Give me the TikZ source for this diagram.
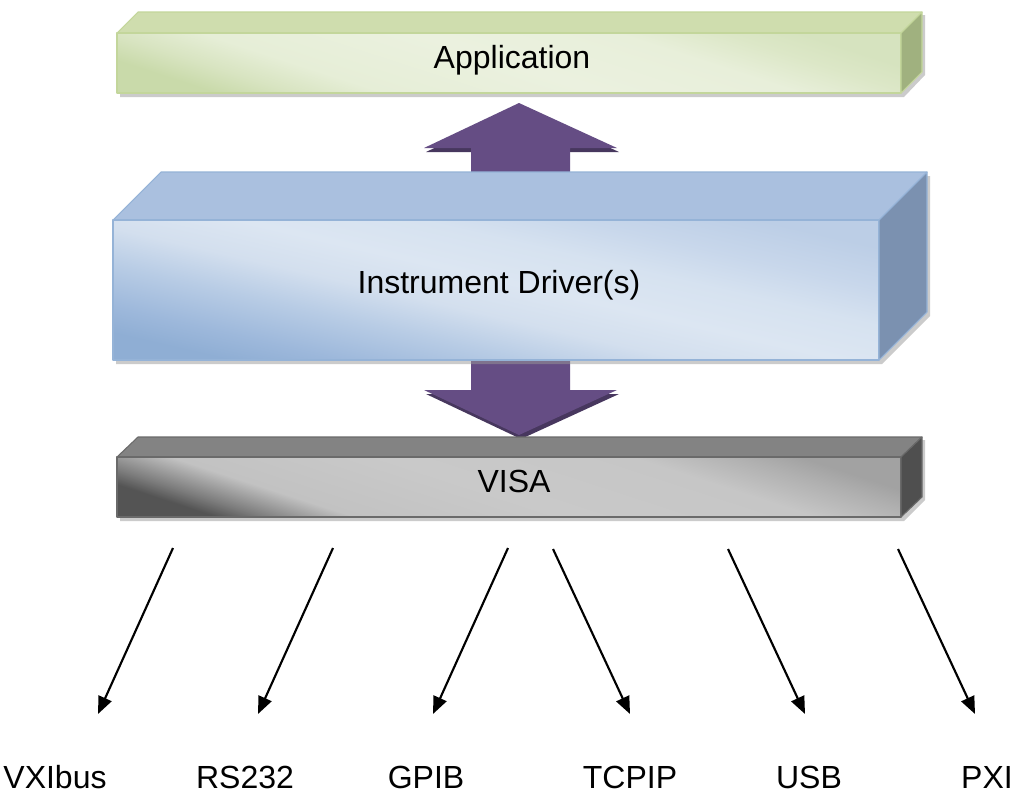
\documentclass[tikz,border=0pt]{standalone}
\usepackage{fontspec}
\setmainfont{Liberation Sans}
\usetikzlibrary{arrows.meta}
\definecolor{appTop}{HTML}{CFDDAE}
\definecolor{appSide}{HTML}{A0B17F}
\definecolor{appEdge}{HTML}{C3D69B}
\definecolor{appS1}{HTML}{C9DAAA}
\definecolor{appS2}{HTML}{D8E4C1}
\definecolor{appS3}{HTML}{E6EED7}
\definecolor{appS4}{HTML}{EBF1DF}
\definecolor{appS5}{HTML}{E8EFDA}
\definecolor{appS6}{HTML}{DCE7C7}
\definecolor{appS7}{HTML}{D6E3BF}
\definecolor{drvTop}{HTML}{AAC0DF}
\definecolor{drvSide}{HTML}{7B91B0}
\definecolor{drvEdge}{HTML}{95B3D7}
\definecolor{drvS1}{HTML}{8FAED4}
\definecolor{drvS2}{HTML}{9DB8DB}
\definecolor{drvS3}{HTML}{B8CCE5}
\definecolor{drvS4}{HTML}{D3DFEE}
\definecolor{drvS5}{HTML}{DCE6F2}
\definecolor{drvS6}{HTML}{D6E2F0}
\definecolor{drvS7}{HTML}{C8D7EB}
\definecolor{drvS8}{HTML}{BCCEE6}
\definecolor{visaTop}{HTML}{838383}
\definecolor{visaSide}{HTML}{4F4F4F}
\definecolor{visaEdge}{HTML}{6A6A6A}
\definecolor{visaS1}{HTML}{545454}
\definecolor{visaS2}{HTML}{7C7C7C}
\definecolor{visaS3}{HTML}{C2C2C2}
\definecolor{visaS4}{HTML}{C9C9C9}
\definecolor{visaS5}{HTML}{C6C6C6}
\definecolor{visaS6}{HTML}{B0B0B0}
\definecolor{visaS7}{HTML}{A2A2A2}
\definecolor{arrowPurple}{HTML}{654D84}
\definecolor{arrowDark}{HTML}{47375E}
\pgfdeclarehorizontalshading{appfront}{100bp}{color(0bp)=(appS1); color(25bp)=(appS1); color(30bp)=(appS2); color(36bp)=(appS3); color(50bp)=(appS4); color(63bp)=(appS5); color(70bp)=(appS6); color(75bp)=(appS7); color(100bp)=(appS7)}
\pgfdeclarehorizontalshading{drvfront}{100bp}{color(0bp)=(drvS1); color(25bp)=(drvS1); color(30bp)=(drvS2); color(38bp)=(drvS3); color(45bp)=(drvS4); color(52bp)=(drvS5); color(60bp)=(drvS6); color(67bp)=(drvS7); color(75bp)=(drvS8); color(100bp)=(drvS8)}
\pgfdeclarehorizontalshading{visafront}{100bp}{color(0bp)=(visaS1); color(25bp)=(visaS1); color(28bp)=(visaS2); color(34bp)=(visaS3); color(48bp)=(visaS4); color(64bp)=(visaS5); color(71bp)=(visaS6); color(75bp)=(visaS7); color(100bp)=(visaS7)}
\tikzset{
  lbl/.style={inner sep=0pt, anchor=base, text=black},
  conn/.style={line width=1.6pt, -{Triangle[length=13pt,width=10.5pt]}},
  boxshadow/.style={fill=black!40, opacity=0.5, draw=none},
  blockarrow/.style={fill=arrowPurple, draw=none},
  blockshadow/.style={fill=arrowDark, draw=none},
  edgeline/.style={line width=0.8pt, line join=round},
}
\begin{document}
\begin{tikzpicture}[x=0.75pt,y=-0.75pt,font=\fontsize{24}{29}\selectfont]
\useasboundingbox[fill=white] (0,0) rectangle (1023,793);

% ---------- purple block arrows (behind the boxes) ----------
\path[blockshadow] (426,152) -- (521,107) -- (619,152) -- cycle;
\path[blockarrow] (471,200) -- (471,148) -- (424,148) -- (519,103) -- (617,148) -- (570,148) -- (570,200) -- cycle;
\path[blockshadow] (426,394) -- (521,439) -- (619,394) -- cycle;
\path[blockarrow] (471,340) -- (471,390) -- (424,390) -- (519,435) -- (617,390) -- (570,390) -- (570,340) -- cycle;

% ---------- Application slab ----------
\path[boxshadow] (120,36) -- (141,15) -- (925,15) -- (925,75) -- (904,97) -- (120,97) -- cycle;
\filldraw[fill=appTop, draw=appEdge, edgeline] (117,33) -- (138,12) -- (922,12) -- (901,33) -- cycle;
\shade[shading=appfront, shading angle=72] (117,33) rectangle (901,93);
\draw[appEdge, edgeline] (117,33) rectangle (901,93);
\filldraw[fill=appSide, draw=appEdge, edgeline] (901,33) -- (922,12) -- (922,72) -- (901,93) -- cycle;
\node[lbl] (app) at (512,68) {Application};

% ---------- Instrument Driver(s) box ----------
\path[boxshadow] (116,224) -- (164,176) -- (930,176) -- (930,316) -- (882,364) -- (116,364) -- cycle;
\filldraw[fill=drvTop, draw=drvEdge, edgeline] (113,220) -- (161,172) -- (927,172) -- (879,220) -- cycle;
\shade[shading=drvfront, shading angle=77] (113,220) rectangle (879,360);
\draw[drvEdge, edgeline] (113,220) rectangle (879,360);
\filldraw[fill=drvSide, draw=drvEdge, edgeline] (879,220) -- (927,172) -- (927,312) -- (879,360) -- cycle;
\node[lbl] (drv) at (499,293) {Instrument Driver(s)};

% ---------- VISA slab ----------
\path[boxshadow] (120,460) -- (141,440) -- (925,440) -- (925,500) -- (904,521) -- (120,521) -- cycle;
\filldraw[fill=visaTop, draw=visaEdge, edgeline] (117,457) -- (138,437) -- (922,437) -- (901,457) -- cycle;
\shade[shading=visafront, shading angle=72] (117,457) rectangle (901,517);
\draw[visaEdge, edgeline] (117,457) rectangle (901,517);
\filldraw[fill=visaSide, draw=visaEdge, edgeline] (901,457) -- (922,437) -- (922,497) -- (901,517) -- cycle;
\node[lbl] (visa) at (514,492) {VISA};

% ---------- bus arrows and labels ----------
\coordinate (s1) at (173,548); \coordinate (e1) at (98,714);
\coordinate (s2) at (333,548); \coordinate (e2) at (258,714);
\coordinate (s3) at (508,548); \coordinate (e3) at (433,714);
\coordinate (s4) at (553,549); \coordinate (e4) at (630,714);
\coordinate (s5) at (728,549); \coordinate (e5) at (805,714);
\coordinate (s6) at (898,549); \coordinate (e6) at (975,714);
\foreach \i in {1,...,6} {\draw[conn] (s\i) -- (e\i);}

\node[lbl] (l1) at (55,788) {VXIbus};
\node[lbl] (l2) at (245,788) {RS232};
\node[lbl] (l3) at (426,788) {GPIB};
\node[lbl] (l4) at (630,788) {TCPIP};
\node[lbl] (l5) at (809,788) {USB};
\node[lbl] (l6) at (987,788) {PXI};
\end{tikzpicture}
\end{document}
